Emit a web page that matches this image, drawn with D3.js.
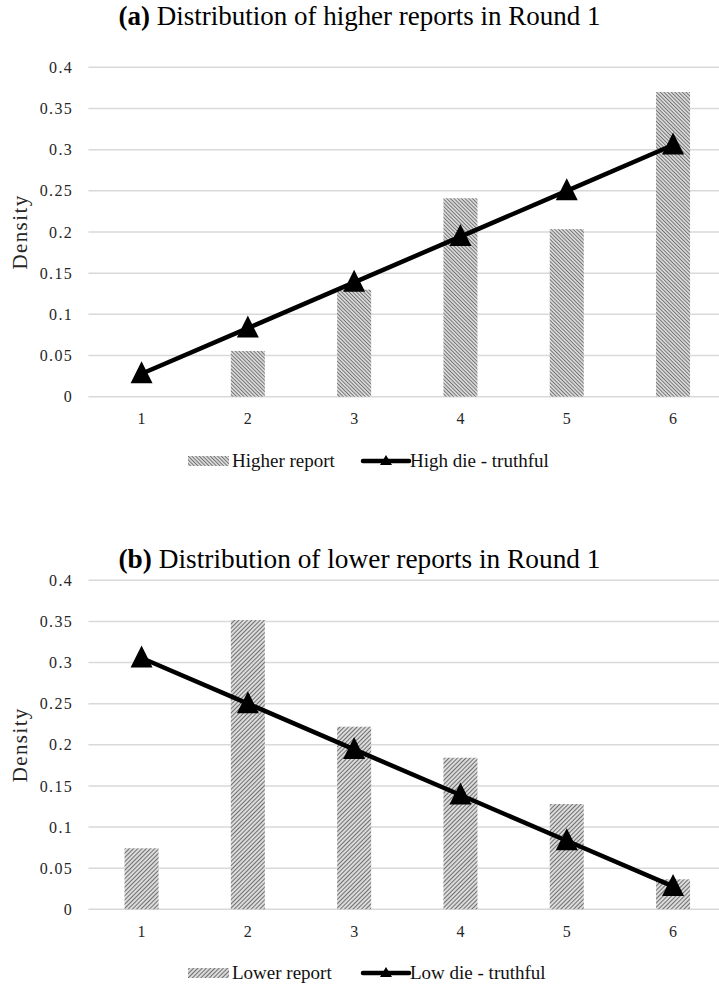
<!DOCTYPE html>
<html>
<head>
<meta charset="utf-8">
<script src="https://cdn.jsdelivr.net/npm/d3@7"></script>
<style>
  body { margin: 0; background: #fff; }
  svg { display: block; }
  text { font-family: "Liberation Serif", "Times New Roman", serif; }
</style>
</head>
<body>
<script>
// Die faces on the horizontal axis
const categories = ["1", "2", "3", "4", "5", "6"];
// Density ticks shown on the vertical axis
const yTickValues = [0, 0.05, 0.1, 0.15, 0.2, 0.25, 0.3, 0.35, 0.4];
const yTickLabels = ["0", "0.05", "0.1", "0.15", "0.2", "0.25", "0.3", "0.35", "0.4"];

// Panel (a): higher reports vs. truthful high die
const higherReport = [0, 0.0555, 0.13, 0.241, 0.2035, 0.37];
const highDieTruthful = [0.0278, 0.0833, 0.1389, 0.1944, 0.25, 0.3056];

// Panel (b): lower reports vs. truthful low die
const lowerReport = [0.0742, 0.3517, 0.222, 0.1843, 0.128, 0.0365];
const lowDieTruthful = [0.3056, 0.25, 0.1944, 0.1389, 0.0833, 0.0278];

const W = 719, H = 988;
const serif = "'Liberation Serif', 'Times New Roman', serif";

const svg = d3.select("body").append("svg")
  .attr("width", W).attr("height", H)
  .attr("viewBox", `0 0 ${W} ${H}`);

// Hatch fills for the bars
const defs = svg.append("defs");
function hatch(id, angle, period, lw) {
  const p = defs.append("pattern")
    .attr("id", id)
    .attr("patternUnits", "userSpaceOnUse")
    .attr("width", period).attr("height", period)
    .attr("patternTransform", `rotate(${angle})`);
  p.append("rect").attr("width", period).attr("height", period).attr("fill", "#fff");
  p.append("line")
    .attr("x1", period / 2).attr("x2", period / 2)
    .attr("y1", 0).attr("y2", period)
    .attr("stroke", "#707070").attr("stroke-width", lw);
}
hatch("hatchBack", -45, 2.6, 1.35);
hatch("hatchFwd", 45, 3.0, 1.5);

const panels = [
  {
    bold: "(a)", title: " Distribution of higher reports in Round 1",
    titleY: 25, top: 67.3, bottom: 396.7, xLabelY: 424, legendY: 461,
    bars: higherReport, line: highDieTruthful,
    barName: "Higher report", lineName: "High die - truthful",
    fill: "url(#hatchBack)"
  },
  {
    bold: "(b)", title: " Distribution of lower reports in Round 1",
    titleY: 568, top: 580.3, bottom: 909.3, xLabelY: 937, legendY: 973,
    bars: lowerReport, line: lowDieTruthful,
    barName: "Lower report", lineName: "Low die - truthful",
    fill: "url(#hatchFwd)"
  }
];

const plotLeft = 88.4, plotRight = 726.2;
const triPath = "M0,-12.5L11,9.5L-11,9.5Z";
const titleWidth = 482;

panels.forEach(pn => {
  const g = svg.append("g");

  const x = d3.scaleBand().domain(categories).range([plotLeft, plotRight]);
  const y = d3.scaleLinear().domain([0, 0.4]).range([pn.bottom, pn.top]);

  // Title: bold panel letter followed by regular text, sized to a fixed width
  const t = g.append("text")
    .attr("x", W / 2).attr("y", pn.titleY)
    .attr("text-anchor", "middle")
    .style("font-family", serif)
    .style("font-size", "24px")
    .attr("fill", "#000");
  t.append("tspan").style("font-weight", "bold").text(pn.bold);
  t.append("tspan").text(pn.title);
  const tw = t.node().getComputedTextLength();
  t.style("font-size", (24 * titleWidth / tw).toFixed(2) + "px");

  // Horizontal gridlines
  g.append("g").selectAll("line").data(yTickValues).join("line")
    .attr("x1", plotLeft).attr("x2", plotRight)
    .attr("y1", d => y(d)).attr("y2", d => y(d))
    .attr("stroke", "#d9d9d9").attr("stroke-width", 1.5);

  // Y axis labels
  const yAxis = d3.axisLeft(y).tickValues(yTickValues)
    .tickFormat((d, i) => yTickLabels[i]).tickSize(0).tickPadding(0);
  const ya = g.append("g").attr("transform", `translate(73,0)`).call(yAxis);
  ya.select(".domain").remove();
  ya.attr("font-family", null).attr("font-size", null);
  ya.selectAll("text")
    .style("font-family", serif).style("font-size", "16px")
    .style("letter-spacing", "1.3px")
    .attr("fill", "#262626");

  // Y axis title
  g.append("text")
    .attr("transform", `translate(27,${(pn.top + pn.bottom) / 2}) rotate(-90)`)
    .attr("text-anchor", "middle")
    .style("font-family", serif).style("font-size", "21px")
    .style("letter-spacing", "1.4px")
    .attr("fill", "#262626")
    .text("Density");

  // X axis labels
  const xAxis = d3.axisBottom(x).tickSize(0).tickPadding(0);
  const xa = g.append("g").attr("transform", `translate(0,${pn.xLabelY})`).call(xAxis);
  xa.select(".domain").remove();
  xa.attr("font-family", null).attr("font-size", null);
  xa.selectAll("text")
    .attr("y", 0).attr("dy", null)
    .style("font-family", serif).style("font-size", "16px")
    .attr("fill", "#262626");

  // Bars
  const bw = x.bandwidth() * 0.32;
  g.append("g").selectAll("rect").data(pn.bars).join("rect")
    .attr("x", (d, i) => x(categories[i]) + x.bandwidth() / 2 - bw / 2)
    .attr("width", bw)
    .attr("y", d => y(d))
    .attr("height", d => y(0) - y(d))
    .attr("fill", pn.fill);

  // Truthful benchmark line with triangle markers
  const lineGen = d3.line()
    .x((d, i) => x(categories[i]) + x.bandwidth() / 2)
    .y(d => y(d));
  g.append("path").datum(pn.line)
    .attr("d", lineGen)
    .attr("fill", "none").attr("stroke", "#000").attr("stroke-width", 4.5);
  g.append("g").selectAll("path").data(pn.line).join("path")
    .attr("d", triPath)
    .attr("transform", (d, i) => `translate(${x(categories[i]) + x.bandwidth() / 2},${y(d)})`)
    .attr("fill", "#000");

  // Legend
  const lg = g.append("g").attr("transform", `translate(0,${pn.legendY})`);
  lg.append("rect").attr("x", 188).attr("y", -5).attr("width", 41).attr("height", 10)
    .attr("fill", pn.fill);
  lg.append("text").attr("x", 232).attr("y", 6)
    .style("font-family", serif).style("font-size", "19px").attr("fill", "#111")
    .text(pn.barName);
  lg.append("line").attr("x1", 363).attr("x2", 409).attr("y1", 0).attr("y2", 0)
    .attr("stroke", "#000").attr("stroke-width", 4.5).attr("stroke-linecap", "round");
  lg.append("path").attr("d", "M0,-6L6,4L-6,4Z")
    .attr("transform", "translate(386,0)").attr("fill", "#000");
  lg.append("text").attr("x", 410).attr("y", 6)
    .style("font-family", serif).style("font-size", "19px").attr("fill", "#111")
    .text(pn.lineName);
});
</script>
</body>
</html>
